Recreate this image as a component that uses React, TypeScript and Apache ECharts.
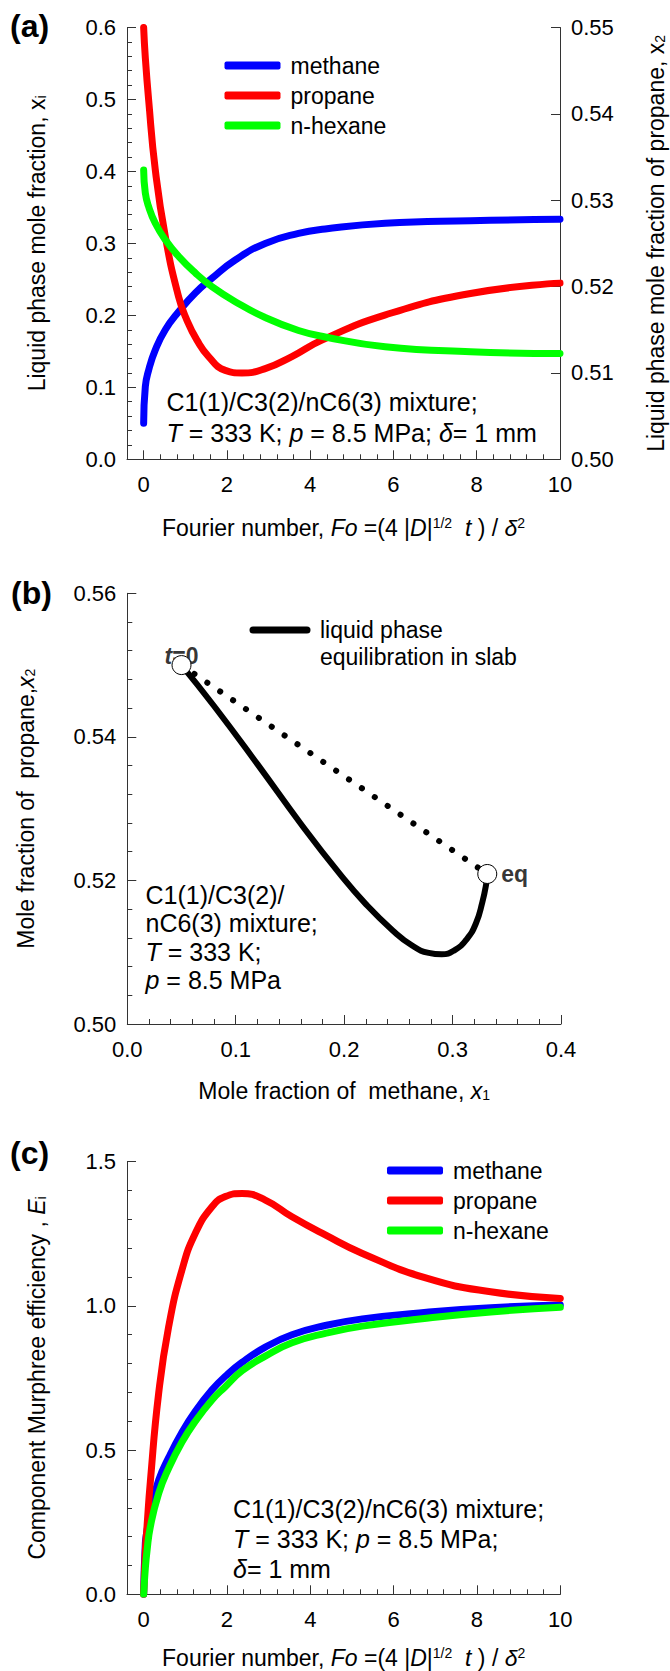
import React, { useEffect, useRef } from "react";
import * as echarts from "echarts";

const FONT = '"Liberation Sans", Arial, Helvetica, sans-serif';

// ---------- Panel (a): liquid phase mole fractions vs Fourier number ----------
const foA = [0, 0.04, 0.12, 0.28, 0.52, 0.84, 1.24, 1.64, 2.2, 2.92, 3.72, 4.36, 5.8, 7.85, 10];
const methaneA = [0.05, 0.101, 0.124, 0.152, 0.18, 0.205, 0.231, 0.2515, 0.277, 0.3, 0.314, 0.32, 0.328, 0.3316, 0.3335];
const hexaneA = [0.402, 0.37, 0.351, 0.328, 0.305, 0.282, 0.259, 0.24, 0.219, 0.197, 0.179, 0.17, 0.1565, 0.1495, 0.147];
const foPropaneA = [0, 0.04, 0.12, 0.28, 0.52, 0.84, 1.04, 1.28, 1.56, 1.96, 2.36, 2.92, 3.56, 4.28, 5.79, 7.85, 10];
const propaneA = [0.55, 0.5465, 0.5416, 0.5335, 0.5258, 0.5188, 0.5161, 0.5138, 0.5119, 0.5103, 0.51, 0.5105, 0.5119, 0.5138, 0.5167, 0.5192, 0.5204];

// ---------- Panel (b): composition trajectory x2 vs x1 ----------
const bX1 = [0.05, 0.08, 0.12, 0.16, 0.196, 0.22, 0.245, 0.263, 0.278, 0.29, 0.302, 0.313, 0.3215, 0.3275, 0.331, 0.332];
const bX2 = [0.55, 0.5443, 0.5362, 0.5279, 0.5209, 0.5167, 0.513, 0.5109, 0.5099, 0.5097, 0.5103, 0.5118, 0.514, 0.517, 0.5195, 0.5209];
const bStart = [0.05, 0.55];
const bEq = [0.332, 0.5209];

// ---------- Panel (c): component Murphree efficiencies ----------
const foC = [0, 0.04, 0.08, 0.16, 0.36, 0.6, 0.92, 1.24, 1.64, 1.96, 2.36, 2.92, 3.56, 4.36, 5.25, 6.79, 8.33, 10];
const methaneC = [0, 0.177, 0.22, 0.292, 0.396, 0.474, 0.562, 0.635, 0.709, 0.756, 0.804, 0.857, 0.9, 0.932, 0.955, 0.978, 0.994, 1.003];
const propaneC = [0, 0.15, 0.234, 0.39, 0.697, 0.928, 1.125, 1.252, 1.344, 1.379, 1.39, 1.367, 1.309, 1.246, 1.182, 1.096, 1.049, 1.026];
const hexaneC = [0, 0.09, 0.15, 0.234, 0.35, 0.437, 0.528, 0.6, 0.674, 0.72, 0.775, 0.826, 0.872, 0.905, 0.93, 0.957, 0.979, 0.995];

// ---------- names, colours, ticks ----------
const componentNames = ["methane", "propane", "n-hexane"];
const componentColors = ["#0000ff", "#ff0000", "#00ff00"];
const foMajorTicks = [0, 2, 4, 6, 8, 10];
const foMinorTicks = Array.from({ length: 26 }, (_, i) => Math.round(i * 4) / 10);

const AX = { color: "#333", width: 1 };

const nameStyle = (size = 23) => ({
  color: "#000",
  fontSize: size,
  fontFamily: FONT,
  lineHeight: size,
  rich: {
    it: { fontStyle: "italic", fontSize: size, fontFamily: FONT, color: "#000", lineHeight: size },
    sub: { fontSize: 14, fontFamily: FONT, color: "#000", verticalAlign: "bottom", lineHeight: size },
    sup: { fontSize: 14, fontFamily: FONT, color: "#000", verticalAlign: "top", lineHeight: size },
  },
});

function majorAxis(extra: any) {
  return {
    type: "value",
    axisLine: { show: true, onZero: false, lineStyle: AX },
    axisTick: { show: true, inside: true, length: 9, lineStyle: AX },
    splitLine: { show: false },
    nameMoveOverlap: false,
    nameTextStyle: nameStyle(),
    ...extra,
    axisLabel: { color: "#000", fontSize: 22, fontFamily: FONT, ...(extra.axisLabel || {}) },
  };
}

function minorAxis(extra: any) {
  return {
    type: "value",
    axisLine: { show: false, onZero: false },
    axisTick: { show: true, inside: true, length: 5, lineStyle: AX },
    axisLabel: { show: false },
    splitLine: { show: false },
    ...extra,
  };
}

const fourierName = "Fourier number, {it|Fo} =(4 |{it|D}|{sup|1/2}  {it|t} ) / {it|δ}{sup|2}";

function lineSeries(name: string, color: string, xs: number[], ys: number[], xi: number, yi: number, z = 2, width = 7) {
  return {
    type: "line",
    name,
    xAxisIndex: xi,
    yAxisIndex: yi,
    data: xs.map((x, i) => [x, ys[i]]),
    showSymbol: false,
    symbol: "none",
    smooth: 0.5,
    z,
    itemStyle: { color },
    lineStyle: { color, width, cap: "round", join: "round" },
    emphasis: { disabled: true },
  };
}

function legendAt(left: number, top: number) {
  return {
    data: componentNames,
    orient: "vertical",
    left,
    top,
    padding: 0,
    itemWidth: 56,
    itemHeight: 8,
    itemGap: 7,
    icon: "roundRect",
    selectedMode: false,
    textStyle: { color: "#000", fontSize: 23, fontFamily: FONT, lineHeight: 22, padding: [0, 0, 0, 5] },
  };
}

const annotStyle = (size: number, lh: number) => ({
  fontSize: size,
  fontFamily: FONT,
  fill: "#000",
  lineHeight: lh,
  verticalAlign: "top",
  rich: {
    it: { fontStyle: "italic", fontSize: size, fontFamily: FONT, fill: "#000", lineHeight: lh },
  },
});

export default function App() {
  const ref = useRef<HTMLDivElement>(null);
  useEffect(() => {
    if (!ref.current) return;
    const chart = echarts.init(ref.current, null, { renderer: "svg" });
    const option: any = {
      animation: false,
      backgroundColor: "#fff",
      textStyle: { fontFamily: FONT, color: "#000" },
      grid: [
        { left: 127, top: 27.5, width: 433, height: 431.8, outerBoundsMode: "none" },
        { left: 127.3, top: 593.3, width: 433.7, height: 430.7, outerBoundsMode: "none" },
        { left: 127, top: 1161.7, width: 433.3, height: 432.6, outerBoundsMode: "none" },
      ],
      xAxis: [
        majorAxis({
          gridIndex: 0, min: -0.4, max: 10, position: "bottom",
          axisTick: { show: true, inside: true, length: 9, lineStyle: AX, customValues: foMajorTicks },
          axisLabel: { customValues: foMajorTicks, margin: 14 },
          name: fourierName, nameLocation: "middle", nameGap: 57,
        }),
        minorAxis({
          gridIndex: 0, min: -0.4, max: 10, position: "bottom",
          axisTick: { show: true, inside: true, length: 5, lineStyle: AX, customValues: foMinorTicks },
        }),
        majorAxis({
          gridIndex: 1, min: 0, max: 0.4, interval: 0.1, position: "bottom",
          axisLabel: { margin: 14, formatter: (v: number) => v.toFixed(1) },
          name: "Mole fraction of  methane, {it|x}{sub|1}", nameLocation: "middle", nameGap: 55,
        }),
        minorAxis({ gridIndex: 1, min: 0, max: 0.4, interval: 0.02, position: "bottom" }),
        majorAxis({
          gridIndex: 2, min: -0.4, max: 10, position: "bottom",
          axisTick: { show: true, inside: true, length: 9, lineStyle: AX, customValues: foMajorTicks },
          axisLabel: { customValues: foMajorTicks, margin: 14 },
          name: fourierName, nameLocation: "middle", nameGap: 52,
        }),
        minorAxis({
          gridIndex: 2, min: -0.4, max: 10, position: "bottom",
          axisTick: { show: true, inside: true, length: 5, lineStyle: AX, customValues: foMinorTicks },
        }),
      ],
      yAxis: [
        majorAxis({
          gridIndex: 0, min: 0, max: 0.6, interval: 0.1, position: "left",
          axisLabel: { margin: 11, formatter: (v: number) => v.toFixed(1) },
          name: "Liquid phase mole fraction, x{sub|i}", nameLocation: "middle", nameRotate: 90, nameGap: 79,
        }),
        minorAxis({ gridIndex: 0, min: 0, max: 0.6, interval: 0.02, position: "left" }),
        majorAxis({
          gridIndex: 0, min: 0.5, max: 0.55, interval: 0.01, position: "right",
          axisLabel: { margin: 11, formatter: (v: number) => v.toFixed(2) },
          name: "Liquid phase mole fraction of propane, x{sub|2}", nameLocation: "middle", nameRotate: 90, nameGap: 84,
        }),
        majorAxis({
          gridIndex: 1, min: 0.5, max: 0.56, interval: 0.02, position: "left",
          axisLabel: { margin: 11, formatter: (v: number) => v.toFixed(2) },
          name: "Mole fraction of  propane,{it|x}{sub|2}", nameLocation: "middle", nameRotate: 90, nameGap: 90,
        }),
        minorAxis({ gridIndex: 1, min: 0.5, max: 0.56, interval: 0.004, position: "left" }),
        majorAxis({
          gridIndex: 2, min: 0, max: 1.5, interval: 0.5, position: "left",
          axisLabel: { margin: 11, formatter: (v: number) => v.toFixed(1) },
          name: "Component Murphree efficiency , {it|E}{sub|i}", nameLocation: "middle", nameRotate: 90, nameGap: 79,
        }),
        minorAxis({ gridIndex: 2, min: 0, max: 1.5, interval: 0.1, position: "left" }),
      ],
      legend: [legendAt(224.5, 54), legendAt(387, 1159)],
      series: [
        lineSeries(componentNames[0], componentColors[0], foA, methaneA, 0, 0),
        lineSeries(componentNames[1], componentColors[1], foPropaneA, propaneA, 0, 2),
        lineSeries(componentNames[2], componentColors[2], foA, hexaneA, 0, 0),
        lineSeries("liquid phase equilibration in slab", "#000", bX1, bX2, 2, 3, 2, 6),
        {
          type: "line",
          name: "straight path",
          xAxisIndex: 2,
          yAxisIndex: 3,
          data: [bStart, bEq],
          showSymbol: false,
          symbol: "none",
          z: 2,
          lineStyle: { color: "#000", width: 6, type: [0.1, 15.5], cap: "round" },
          emphasis: { disabled: true },
        },
        {
          type: "scatter",
          name: "point labels",
          xAxisIndex: 2,
          yAxisIndex: 3,
          symbolSize: 0.1,
          itemStyle: { color: "rgba(0,0,0,0)" },
          z: 3,
          data: [
            {
              value: bStart,
              label: {
                show: true, position: "inside", offset: [0, -9],
                formatter: "{it|t}{b|=0}",
                rich: {
                  it: { fontStyle: "italic", fontWeight: "bold", fontSize: 23, fontFamily: FONT, color: "#000" },
                  b: { fontWeight: "bold", fontSize: 23, fontFamily: FONT, color: "#000" },
                },
              },
            },
            {
              value: bEq,
              label: {
                show: true, position: "right", distance: 14, formatter: "eq",
                fontWeight: "bold", fontSize: 23, fontFamily: FONT, color: "#000",
              },
            },
          ],
          emphasis: { disabled: true },
        },
        {
          type: "scatter",
          name: "end points",
          xAxisIndex: 2,
          yAxisIndex: 3,
          symbol: "circle",
          symbolSize: 19,
          z: 5,
          itemStyle: { color: "#fff", borderColor: "#000", borderWidth: 1, opacity: 1 },
          data: [bStart, bEq],
          emphasis: { disabled: true },
        },
        lineSeries(componentNames[0], componentColors[0], foC, methaneC, 4, 5),
        lineSeries(componentNames[1], componentColors[1], foC, propaneC, 4, 5),
        lineSeries(componentNames[2], componentColors[2], foC, hexaneC, 4, 5),
      ],
      graphic: [
        { type: "text", x: 10, y: 26, style: { text: "(a)", fontSize: 32, fontWeight: "bold", fontFamily: FONT, fill: "#000", verticalAlign: "middle" } },
        { type: "text", x: 11, y: 593, style: { text: "(b)", fontSize: 32, fontWeight: "bold", fontFamily: FONT, fill: "#000", verticalAlign: "middle" } },
        { type: "text", x: 10, y: 1153, style: { text: "(c)", fontSize: 32, fontWeight: "bold", fontFamily: FONT, fill: "#000", verticalAlign: "middle" } },
        {
          type: "text", x: 166.5, y: 386,
          style: { text: "C1(1)/C3(2)/nC6(3) mixture;\n{it|T} = 333 K; {it|p} = 8.5 MPa; {it|δ}= 1 mm", ...annotStyle(25, 31.6) },
        },
        {
          type: "text", x: 145.5, y: 881,
          style: { text: "C1(1)/C3(2)/\nnC6(3) mixture;\n{it|T} = 333 K;\n{it|p} = 8.5 MPa", ...annotStyle(25, 28.3) },
        },
        {
          type: "text", x: 233, y: 1493.5,
          style: { text: "C1(1)/C3(2)/nC6(3) mixture;\n{it|T} = 333 K; {it|p} = 8.5 MPa;\n{it|δ}= 1 mm", ...annotStyle(25, 30) },
        },
        { type: "line", shape: { x1: 253, y1: 630, x2: 307, y2: 630 }, style: { stroke: "#000", lineWidth: 7, lineCap: "round" } },
        {
          type: "text", x: 320, y: 616.7,
          style: { text: "liquid phase\nequilibration in slab", fontSize: 23, fontFamily: FONT, fill: "#000", lineHeight: 26.7, verticalAlign: "top" },
        },
      ],
    };
    chart.setOption(option);
    return () => chart.dispose();
  }, []);
  return (
    <div
      ref={ref}
      style={{ position: "absolute", left: 0, top: 0, width: 670, height: 1671, background: "#fff" }}
    />
  );
}
